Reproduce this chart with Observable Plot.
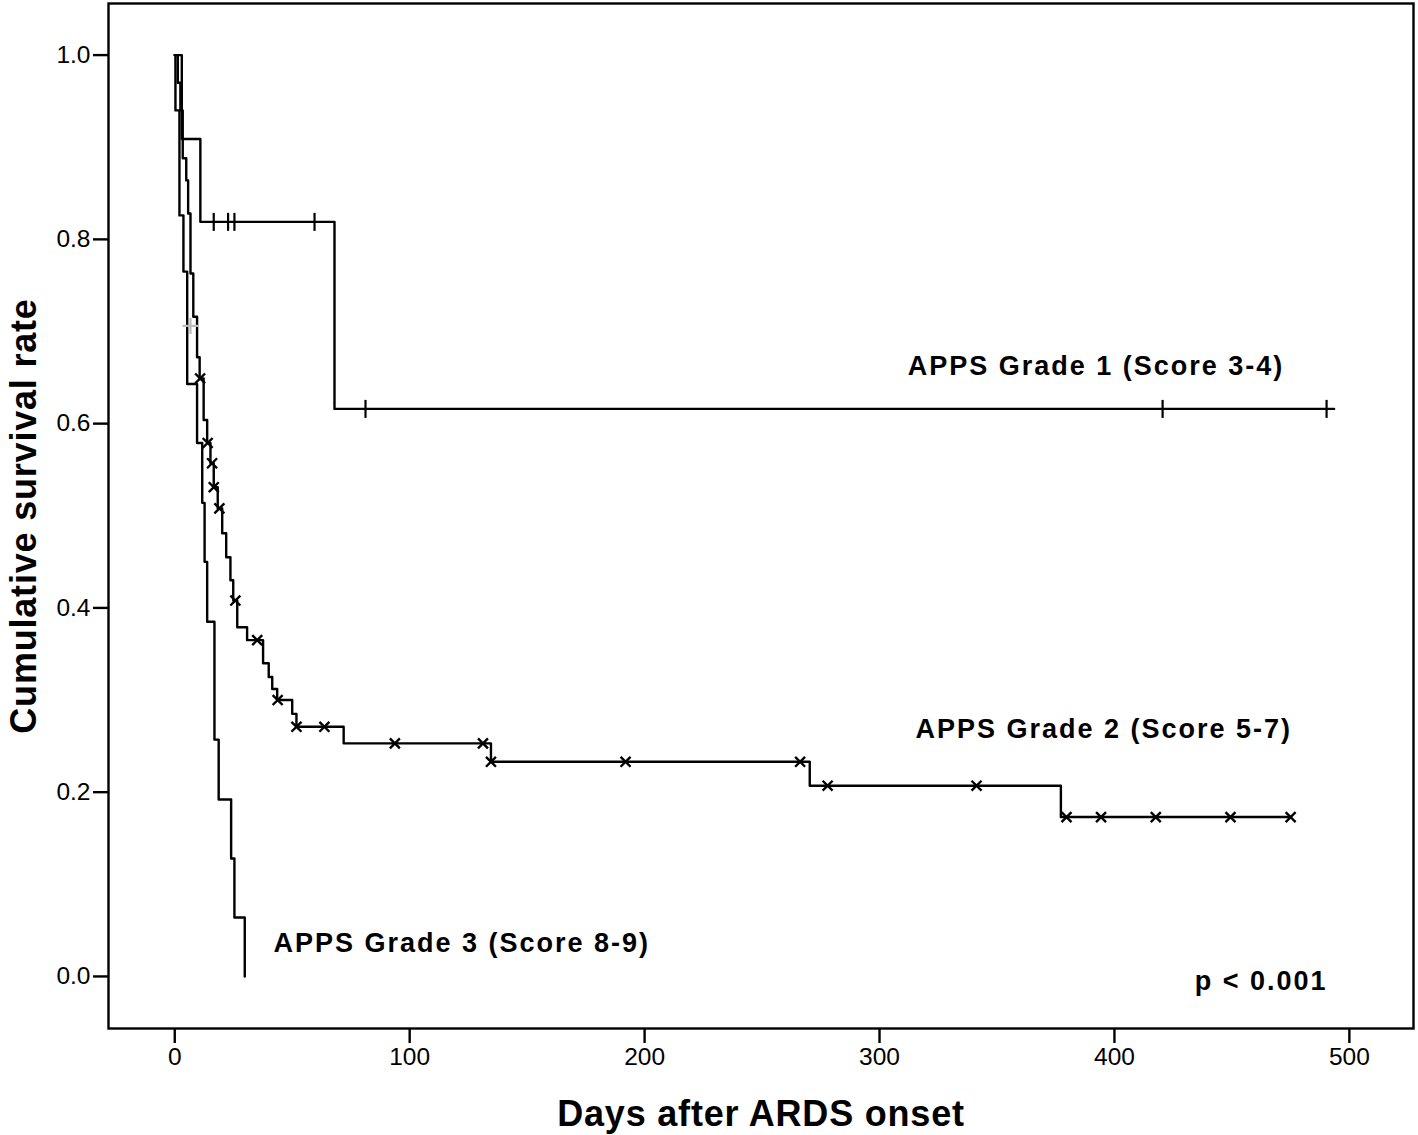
<!DOCTYPE html>
<html>
<head>
<meta charset="utf-8">
<script src="https://cdn.jsdelivr.net/npm/d3@7"></script>
<script src="https://cdn.jsdelivr.net/npm/@observablehq/plot@0.6"></script>
<style>
  body { margin: 0; background: #fff; }
  svg { font-family: "Liberation Sans", Arial, Helvetica, sans-serif; }
</style>
</head>
<body>
<div id="chart"></div>
<script>
// ---- Data (Kaplan-Meier steps) ----
// APPS Grade 1 (Score 3-4)
const grade1Days = [0, 3.0, 10.9, 68.0, 493.5];
const grade1Surv = [1, 0.909, 0.819, 0.616, 0.616];
const grade1CensorDays = [16.6, 22.7, 25.4, 59.5, 81.2, 420.5, 490.3];

// APPS Grade 2 (Score 5-7)
const grade2Days = [0, 1.3, 2.4, 3.4, 4.9, 5.7, 6.7, 7.9, 9.5, 10.6, 12.3, 13.8, 15.2, 16.6, 18.3, 20.2,
  21.9, 23.7, 24.9, 26.6, 30.8, 37.6, 40.0, 41.5, 43.6, 50.0, 51.8, 71.9, 134.6, 270.3, 377.2, 475];
const grade2Surv = [1, 0.97, 0.94, 0.888, 0.864, 0.828, 0.763, 0.716, 0.672, 0.649, 0.604, 0.579, 0.557, 0.531, 0.508, 0.481,
  0.455, 0.43, 0.408, 0.379, 0.365, 0.34, 0.325, 0.312, 0.3, 0.285, 0.271, 0.253, 0.233, 0.207, 0.173, 0.173];
const grade2CensorDays = [10.8, 14.0, 15.9, 16.6, 19.0, 25.8, 35.1, 43.8, 51.8, 63.7, 93.7, 131.2, 134.6,
  191.9, 266.2, 277.9, 341.3, 379.6, 394.3, 417.6, 449.4, 475];

// APPS Grade 3 (Score 8-9)
const grade3Days = [0, 0.3, 2.0, 3.7, 5.3, 9.5, 11.7, 12.7, 13.8, 16.9, 18.7, 24.0, 25.4, 29.8];
const grade3Surv = [1, 0.94, 0.826, 0.765, 0.643, 0.579, 0.514, 0.45, 0.385, 0.257, 0.192, 0.128, 0.064, 0];

// faint grey censor mark near the start
const greyCensorDays = [6.7];
const greyCensorSurv = [0.706];

const xTicks = [0, 100, 200, 300, 400, 500];
const yTicks = [0, 0.2, 0.4, 0.6, 0.8, 1.0];

const curveLabels = ["APPS Grade 1 (Score 3-4)", "APPS Grade 2 (Score 5-7)", "APPS Grade 3 (Score 8-9)"];
const pLabel = "p < 0.001";
const xTitle = "Days after ARDS onset";
const yTitle = "Cumulative survival rate";

// ---- Build tables ----
const rows = (days, surv) => days.map((d, i) => ({day: d, surv: surv[i]}));
function survAt(days, surv, t) {
  let s = surv[0];
  for (let i = 0; i < days.length; i++) if (days[i] <= t) s = surv[i];
  return s;
}
const censors = (cd, days, surv) => cd.map(t => ({day: t, surv: survAt(days, surv, t)}));

const g1 = rows(grade1Days, grade1Surv);
const g2 = rows(grade2Days, grade2Surv);
const g3 = rows(grade3Days, grade3Surv);
const c1 = censors(grade1CensorDays, grade1Days, grade1Surv);
const c2 = censors(grade2CensorDays, grade2Days, grade2Surv);
const cg = rows(greyCensorDays, greyCensorSurv);

const vbar = {draw(ctx, size) { const r = Math.sqrt(size / Math.PI); ctx.moveTo(0, -r); ctx.lineTo(0, r); }};
const plus = {draw(ctx, size) { const r = Math.sqrt(size / Math.PI); ctx.moveTo(-r, 0); ctx.lineTo(r, 0); ctx.moveTo(0, -r); ctx.lineTo(0, r); }};

const labelRows = [
  {t: curveLabels[0], day: 312.0, surv: 0.662},
  {t: curveLabels[1], day: 315.3, surv: 0.268},
  {t: curveLabels[2], day: 42.0, surv: 0.0354}
];

const LW = 2.4;

const chart = Plot.plot({
  width: 1418,
  height: 1135,
  marginLeft: 108,
  marginRight: 5,
  marginTop: 3,
  marginBottom: 107,
  style: {fontFamily: '"Liberation Sans", Arial, sans-serif', background: "#fff", color: "#000"},
  x: {domain: [-28.2, 527.3]},
  y: {domain: [-0.0565, 1.056]},
  marks: [
    Plot.frame({stroke: "#000", strokeWidth: 2.4}),
    Plot.axisX({ticks: xTicks, tickSize: 15, tickPadding: 4, strokeWidth: 2.4, fontSize: 24.5, label: null, tickFormat: d3.format("d")}),
    Plot.axisY({ticks: yTicks, tickSize: 15, tickPadding: 3, strokeWidth: 2.4, fontSize: 24.5, label: null, tickFormat: d3.format(".1f")}),
    Plot.line(g3, {x: "day", y: "surv", curve: "step-after", stroke: "#000", strokeWidth: LW}),
    Plot.line(g2, {x: "day", y: "surv", curve: "step-after", stroke: "#000", strokeWidth: LW}),
    Plot.line(g1, {x: "day", y: "surv", curve: "step-after", stroke: "#000", strokeWidth: LW}),
    Plot.dot(cg, {x: "day", y: "surv", symbol: plus, r: 8, fill: "none", stroke: "#bbb", strokeWidth: 2.2}),
    Plot.dot(c1, {x: "day", y: "surv", symbol: vbar, r: 9, fill: "none", stroke: "#000", strokeWidth: 2.2}),
    Plot.dot(c2, {x: "day", y: "surv", symbol: "times", r: 4.6, fill: "none", stroke: "#000", strokeWidth: 2.4}),
    Plot.text(labelRows, {x: "day", y: "surv", text: "t", textAnchor: "start", lineAnchor: "middle",
      fontSize: 27, fontWeight: "bold", fill: "#000"}),
    Plot.text([pLabel], {x: () => 490.7, y: () => -0.0048, text: d => d, textAnchor: "end", lineAnchor: "middle",
      fontSize: 27, fontWeight: "bold", fill: "#000"}),
    Plot.text([xTitle], {frameAnchor: "bottom", dy: 85.5, text: d => d, textAnchor: "middle", lineAnchor: "middle",
      fontSize: 36, fontWeight: "bold", fill: "#000"}),
    Plot.text([yTitle], {frameAnchor: "left", dx: -84, rotate: -90, text: d => d, textAnchor: "middle", lineAnchor: "middle",
      fontSize: 36, fontWeight: "bold", fill: "#000"})
  ]
});

document.getElementById("chart").appendChild(chart);
const svg = d3.select(chart);
svg.selectAll("text").filter(function () { return curveLabels.includes(this.textContent) || this.textContent === pLabel; })
  .style("letter-spacing", "2px");
svg.selectAll("text").filter(function () { return this.textContent === xTitle || this.textContent === yTitle; })
  .style("letter-spacing", "0.8px");
</script>
</body>
</html>
